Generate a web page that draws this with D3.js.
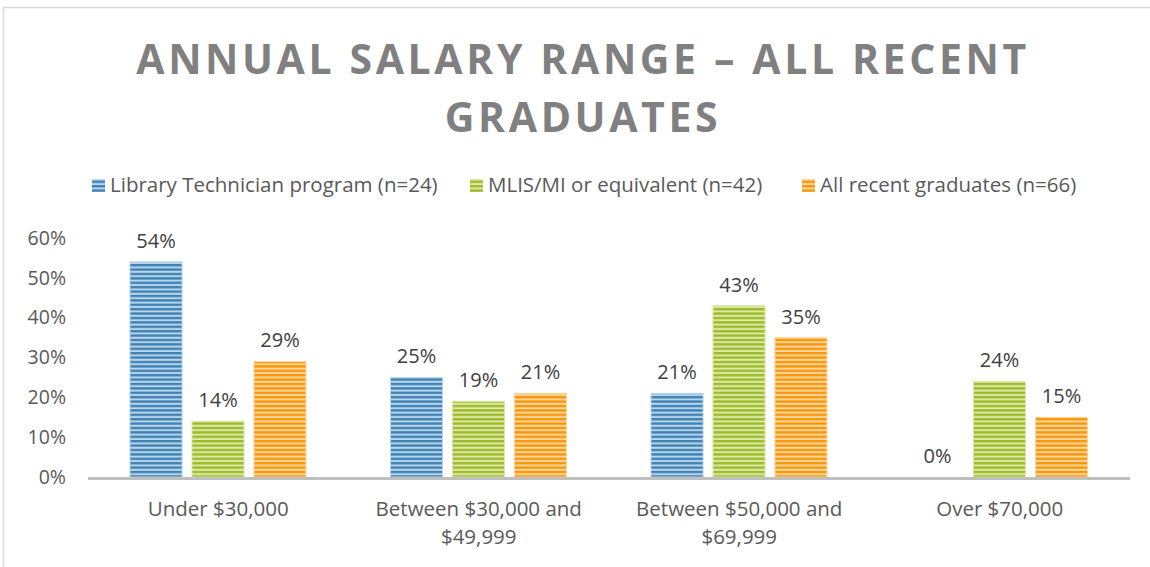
<!DOCTYPE html>
<html>
<head>
<meta charset="utf-8">
<script src="https://cdn.jsdelivr.net/npm/d3@7"></script>
<style>
  body { margin: 0; background: #fff; }
  svg { font-family: "Open Sans", sans-serif; }
</style>
</head>
<body>
<svg width="1150" height="567"></svg>
<script>
var categories = ["Under $30,000", "Between $30,000 and $49,999", "Between $50,000 and $69,999", "Over $70,000"];
var categoryLines = [["Under $30,000"], ["Between $30,000 and", "$49,999"], ["Between $50,000 and", "$69,999"], ["Over $70,000"]];
var seriesNames = ["Library Technician program (n=24)", "MLIS/MI or equivalent (n=42)", "All recent graduates (n=66)"];
var libTech = [54, 25, 21, 0];
var mlis = [14, 19, 43, 24];
var allGrads = [29, 21, 35, 15];
var yTicks = [0, 10, 20, 30, 40, 50, 60];

var seriesValues = [libTech, mlis, allGrads];
var dark = ["#3f82b5", "#9dbb2b", "#f7980a"];
var light = ["#b9d6ea", "#dce9a8", "#fdd6a0"];

var svg = d3.select("svg");

// frame
svg.append("path")
    .attr("d", "M3.5,567 V7.5 H1150")
    .attr("fill", "none")
    .attr("stroke", "#d9d9d9")
    .attr("stroke-width", 1.5);

// stripe patterns
var defs = svg.append("defs");
seriesNames.forEach(function(s, i) {
    var p = defs.append("pattern")
        .attr("id", "stripe" + i)
        .attr("patternUnits", "userSpaceOnUse")
        .attr("width", 8)
        .attr("height", 4.4);
    p.append("rect").attr("width", 8).attr("height", 4.4).attr("fill", light[i]);
    p.append("rect").attr("y", 0).attr("width", 8).attr("height", 2.4).attr("fill", dark[i]);
});

var x0 = d3.scaleBand()
    .domain(categories)
    .range([88, 1130]);

var x1 = d3.scaleBand()
    .domain(d3.range(seriesNames.length))
    .range([42, 218])
    .paddingInner(0.16);

var y = d3.scaleLinear()
    .domain([0, 60])
    .range([477, 238]);

// y tick labels
svg.append("g")
    .selectAll("text")
    .data(yTicks)
    .enter().append("text")
    .attr("x", 66)
    .attr("y", function(d) { return y(d); })
    .attr("dy", "0.35em")
    .attr("text-anchor", "end")
    .attr("font-size", 19.5)
    .attr("fill", "#595959")
    .text(function(d) { return d + "%"; });

// bars
var groups = svg.append("g")
    .selectAll("g")
    .data(categories)
    .enter().append("g")
    .attr("transform", function(d) { return "translate(" + x0(d) + ",0)"; });

groups.selectAll("rect")
    .data(function(d, ci) {
        return seriesValues.map(function(vals, si) { return { s: si, v: vals[ci] }; });
    })
    .enter().append("rect")
    .attr("x", function(d) { return x1(d.s); })
    .attr("y", function(d) { return y(d.v); })
    .attr("width", x1.bandwidth())
    .attr("height", function(d) { return y(0) - y(d.v); })
    .attr("fill", function(d) { return "url(#stripe" + d.s + ")"; })
    .attr("stroke", function(d) { return d.v > 0 ? light[d.s] : "none"; })
    .attr("stroke-width", 1);

groups.selectAll("text")
    .data(function(d, ci) {
        return seriesValues.map(function(vals, si) { return { s: si, v: vals[ci] }; });
    })
    .enter().append("text")
    .attr("x", function(d) { return x1(d.s) + x1.bandwidth() / 2; })
    .attr("y", function(d) { return y(d.v) - 14; })
    .attr("text-anchor", "middle")
    .attr("font-size", 20)
    .attr("fill", "#404040")
    .text(function(d) { return d.v + "%"; });

// x axis line
svg.append("line")
    .attr("x1", 88).attr("x2", 1130)
    .attr("y1", y(0) + 1.5).attr("y2", y(0) + 1.5)
    .attr("stroke", "#bfbfbf")
    .attr("stroke-width", 3);

// category labels
var catLabels = svg.append("g")
    .selectAll("text")
    .data(categories)
    .enter().append("text")
    .attr("x", function(d) { return x0(d) + x0.bandwidth() / 2; })
    .attr("y", 516)
    .attr("text-anchor", "middle")
    .attr("font-size", 20.5)
    .attr("fill", "#595959");

catLabels.selectAll("tspan")
    .data(function(d, i) { return categoryLines[i]; })
    .enter().append("tspan")
    .attr("x", function() { var c = d3.select(this.parentNode).datum(); return x0(c) + x0.bandwidth() / 2; })
    .attr("dy", function(d, i) { return i === 0 ? 0 : 28; })
    .text(function(d) { return d; });

// legend
var legendX = [92, 470, 802];
var legend = svg.append("g")
    .selectAll("g")
    .data(seriesNames)
    .enter().append("g")
    .attr("transform", function(d, i) { return "translate(" + legendX[i] + ",185)"; });

legend.append("rect")
    .attr("x", 0)
    .attr("y", -6)
    .attr("width", 13)
    .attr("height", 13)
    .attr("fill", function(d, i) { return "url(#stripe" + i + ")"; });

legend.append("text")
    .attr("x", 18)
    .attr("y", 0)
    .attr("dy", "0.35em")
    .attr("font-size", 20.5)
    .attr("fill", "#595959")
    .text(function(d) { return d; });

// title
var title = svg.append("text")
    .attr("text-anchor", "middle")
    .attr("font-size", 41)
    .attr("font-weight", "bold")
    .attr("letter-spacing", 3.6)
    .attr("fill", "#808080");

title.append("tspan").attr("x", 583).attr("y", 74).text("ANNUAL SALARY RANGE \u2013 ALL RECENT");
title.append("tspan").attr("x", 583).attr("y", 132).text("GRADUATES");
</script>
</body>
</html>
